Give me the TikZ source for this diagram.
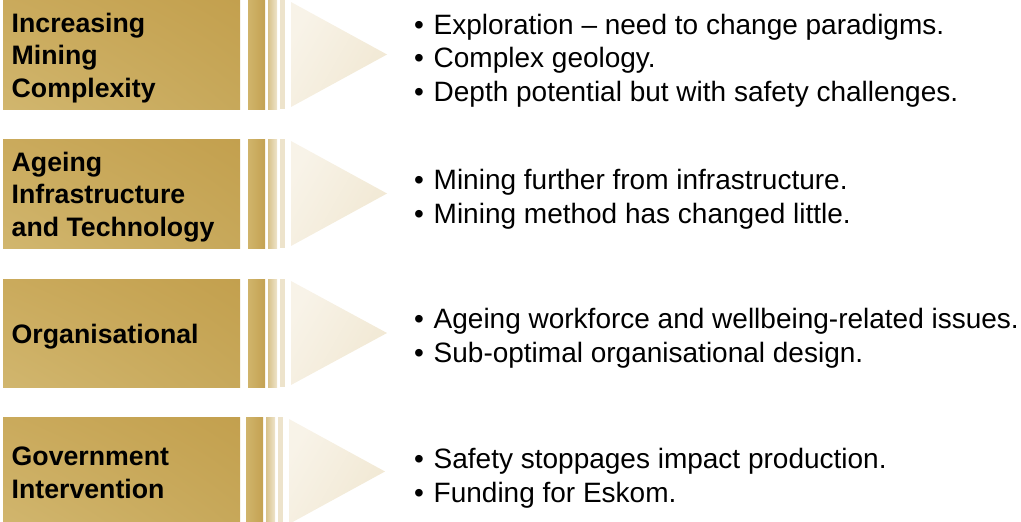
\documentclass[tikz,border=0pt]{standalone}
\usepackage{fontspec}
\setmainfont{Liberation Sans}
\usetikzlibrary{shadings}
\definecolor{boxUL}{HTML}{CAAA5C}
\definecolor{boxUR}{HTML}{C3A04E}
\definecolor{boxLL}{HTML}{D1B66E}
\definecolor{boxLR}{HTML}{C7A85A}
\definecolor{barA}{HTML}{D0B46B}
\definecolor{barB}{HTML}{C4A252}
\definecolor{barC}{HTML}{D8C28B}
\definecolor{barD}{HTML}{EEE4CA}
\definecolor{barE}{HTML}{EDE3CB}
\definecolor{triL}{HTML}{F8F3E8}
\definecolor{triR}{HTML}{F1E8D3}
% one band: gold box, three bars and a pale arrow head
% #1 top edge, #2 height, #3 horizontal shift of the bars
\newcommand\goldband[3]{%
  \shade[upper left=boxUL, upper right=boxUR, lower left=boxLL, lower right=boxLR]
    (3,#1) rectangle (240,#1+#2);
  \shade[left color=barA, right color=barB] (248+#3,#1) rectangle (265+#3,#1+#2);
  \shade[left color=barC, right color=barD] (268+#3,#1) rectangle (277+#3,#1+#2);
  \fill[barE] (280+#3,#1) rectangle (285+#3,#1+#2);
  \shade[left color=triL, right color=triR, shading angle=60]
    (291+#3,#1+2) -- (387+#3,#1+#2/2) -- (291+#3,#1+#2-2) -- cycle;
}
\newcommand\bul{\makebox[19.5pt][l]{\textbullet}}
\begin{document}
\begin{tikzpicture}[x=1pt,y=-1pt,
  % anchored at the baseline of the last line
  lbl/.style={font=\bfseries\fontsize{26.7}{32.5}\selectfont, align=left,
    inner sep=0pt, anchor=base west, text=black},
  pts/.style={font=\fontsize{28}{33.5}\selectfont, align=left,
    inner sep=0pt, anchor=base west, text=black}]
\useasboundingbox (0,0) rectangle (1021,522);

\goldband{0}{109}{0}
\goldband{139}{109}{0}
\goldband{279}{108}{0}
\goldband{417}{109}{-2}

\node[lbl] (l1) at (11.5,97) {Increasing\\Mining\\Complexity};
\node[lbl] (l2) at (11.5,236) {Ageing\\Infrastructure\\and Technology};
\node[lbl] (l3) at (11.5,343) {Organisational};
\node[lbl] (l4) at (11.5,498) {Government\\Intervention};

\node[pts] (p1) at (414,101) {\bul Exploration -- need to change paradigms.\\
  \bul Complex geology.\\
  \bul Depth potential but with safety challenges.};
\node[pts] (p2) at (414,223) {\bul Mining further from infrastructure.\\
  \bul Mining method has changed little.};
\node[pts] (p3) at (414,362) {\bul Ageing workforce and wellbeing-related issues.\\
  \bul Sub-optimal organisational design.};
\node[pts] (p4) at (414,502) {\bul Safety stoppages impact production.\\
  \bul Funding for Eskom.};
\end{tikzpicture}
\end{document}
